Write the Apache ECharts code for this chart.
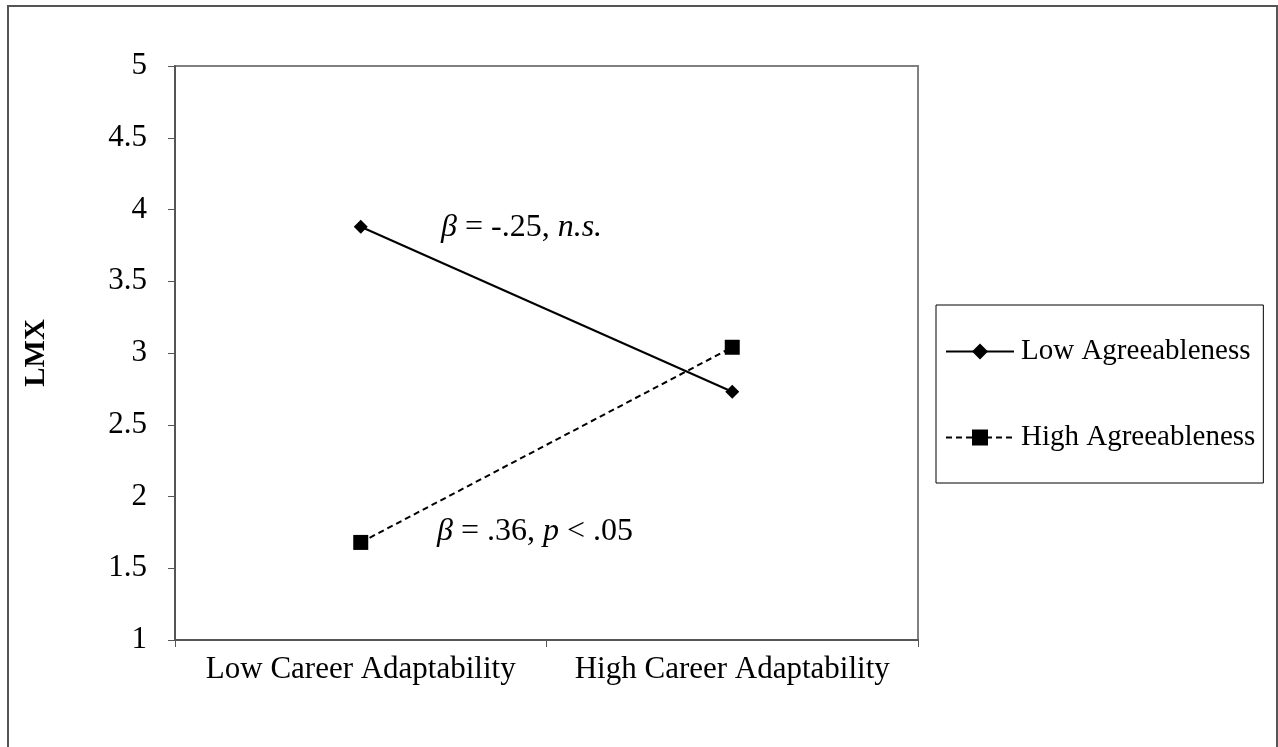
<!DOCTYPE html>
<html>
<head>
<meta charset="utf-8">
<script src="https://cdn.jsdelivr.net/npm/echarts@6/dist/echarts.min.js"></script>
<style>
  html, body { margin: 0; padding: 0; background: #fff; }
  #chart { width: 1278px; height: 747px; }
</style>
</head>
<body>
<div id="chart"></div>
<script>
const categories = ["Low Career Adaptability", "High Career Adaptability"];
const lowAgree = [3.88, 2.73];
const highAgree = [1.68, 3.04];
const seriesNames = ["Low Agreeableness", "High Agreeableness"];
const FONT = '"Liberation Serif", "Times New Roman", serif';

const chart = echarts.init(document.getElementById('chart'));
const option = {
  animation: false,
  backgroundColor: '#fff',
  textStyle: { fontFamily: FONT, color: '#000' },
  grid: {
    left: 175, top: 66, right: 360, bottom: 107,
    show: true, borderColor: '#808080', borderWidth: 2, backgroundColor: 'transparent'
  },
  xAxis: {
    type: 'category',
    data: categories,
    boundaryGap: true,
    axisLine: { lineStyle: { color: '#555', width: 2 } },
    axisTick: { show: true, interval: 0, length: 7, lineStyle: { color: '#555', width: 1 } },
    axisLabel: { fontFamily: FONT, fontSize: 31, color: '#000', margin: 14, interval: 0, hideOverlap: false },
    splitLine: { show: false }
  },
  yAxis: {
    type: 'value',
    min: 1, max: 5, interval: 0.5,
    name: 'LMX',
    nameLocation: 'middle',
    nameGap: 124,
    nameRotate: 90,
    nameTextStyle: { fontFamily: FONT, fontSize: 29, fontWeight: 'bold', color: '#000' },
    axisLine: { show: true, lineStyle: { color: '#555', width: 2 } },
    axisTick: { show: true, length: 7, lineStyle: { color: '#555', width: 1 } },
    axisLabel: { fontFamily: FONT, fontSize: 31, color: '#000', margin: 28 },
    splitLine: { show: false }
  },
  legend: {
    orient: 'vertical',
    left: 936, top: 305,
    padding: [32, 8, 31, 9],
    itemGap: 57,
    itemWidth: 68,
    itemHeight: 20,
    borderColor: '#000',
    borderWidth: 1,
    textStyle: { fontFamily: FONT, fontSize: 29, color: '#000', padding: [0, 0, 0, 2] },
    data: seriesNames
  },
  series: [
    {
      name: seriesNames[0],
      type: 'line',
      data: lowAgree,
      symbol: 'diamond',
      symbolSize: 14,
      itemStyle: { color: '#000' },
      lineStyle: { color: '#000', width: 2, type: 'solid' }
    },
    {
      name: seriesNames[1],
      type: 'line',
      data: highAgree,
      symbol: 'rect',
      symbolSize: 15,
      itemStyle: { color: '#000' },
      lineStyle: { color: '#000', width: 2, type: [6, 4] }
    }
  ],
  graphic: [
    {
      type: 'rect',
      shape: { x: 8, y: 6, width: 1269, height: 780 },
      style: { fill: 'none', stroke: '#555', lineWidth: 2 },
      silent: true
    },
    {
      type: 'text',
      x: 441, y: 228,
      style: {
        text: '{i|β} = -.25, {i|n.s.}',
        fontSize: 32,
        fontFamily: FONT,
        verticalAlign: 'middle',
        fill: '#000',
        rich: { i: { fontStyle: 'italic', fontSize: 32, fontFamily: FONT } }
      }
    },
    {
      type: 'text',
      x: 437, y: 532,
      style: {
        text: '{i|β} = .36, {i|p} < .05',
        fontSize: 32,
        fontFamily: FONT,
        verticalAlign: 'middle',
        fill: '#000',
        rich: { i: { fontStyle: 'italic', fontSize: 32, fontFamily: FONT } }
      }
    }
  ]
};
chart.setOption(option);
</script>
</body>
</html>
